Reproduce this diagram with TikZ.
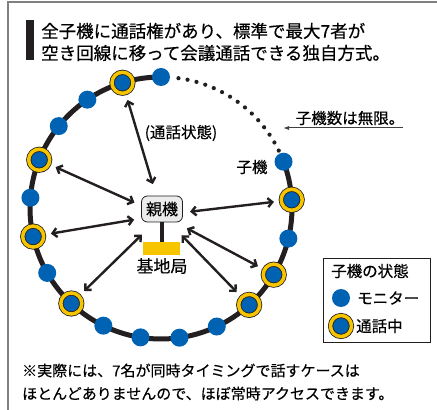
\documentclass[tikz,border=0pt]{standalone}
\usepackage{fontspec}
\setmainfont{Noto Sans CJK JP}[FakeBold=0.4]
\usetikzlibrary{arrows.meta}
\definecolor{kblue}{RGB}{0,98,178}
\definecolor{kyellow}{RGB}{247,196,0}
\definecolor{kink}{RGB}{35,31,32}

\begin{document}
\begin{tikzpicture}[x=1pt, y=1pt,
  monitor/.style ={circle, fill=kblue, inner sep=0pt, minimum size=18pt},
  talking/.style ={circle, fill=kblue, draw=kink, line width=0.8pt, double=kyellow,
    double distance=3.5pt, inner sep=0pt, minimum size=21pt},
  link/.style ={kink, line width=2.4pt, <->, >={Straight Barb[length=4.5pt,width=9pt]},
    shorten >=7pt},
  ring/.style ={kink, line width=5pt},
  txt/.style ={inner sep=0pt, font=\fontsize{15.5}{19}\selectfont}]
 \useasboundingbox (0,0) rectangle (437,410);
 \draw[gray, line width=1.2pt] (437,408) -- (8,408) -- (8,0);
 % title
 \fill[kink] (26,350) rectangle (34,390);
 \node[anchor=west, align=left, inner sep=0pt, font=\fontsize{17.5}{22}\selectfont] (title) at (41,368)
   {全子機に通話権があり、標準で最大7者が\\空き回線に移って会議通話できる独自方式。};
 % ring of handsets
 \begin{scope}[shift={(161,202)}]
 \draw[ring] (90:131) arc[start angle=90, end angle=380.7, radius=131];
 \draw[kink, line width=4.2pt, line cap=round, dash pattern=on 0pt off 9.2pt]
   (26:131) arc[start angle=26, end angle=85, radius=131];
 \node[monitor] (A) at (90:131) {};
 \node[talking] (B) at (107.1:131) {};
 \node[monitor] (C) at (124.2:131) {};
 \node[monitor] (D) at (141.3:131) {};
 \node[talking] (E) at (158.4:131) {};
 \node[monitor] (F) at (175.5:131) {};
 \node[talking] (G) at (192.6:131) {};
 \node[monitor] (H) at (209.7:131) {};
 \node[talking] (I) at (226.8:131) {};
 \node[monitor] (J) at (243.9:131) {};
 \node[monitor] (K) at (261:131) {};
 \node[monitor] (L) at (278.1:131) {};
 \node[monitor] (M) at (295.2:131) {};
 \node[talking] (N) at (312.3:131) {};
 \node[talking] (O) at (329.4:131) {};
 \node[monitor] (P) at (346.5:131) {};
 \node[talking] (Q) at (3.6:131) {};
 \node[monitor] (R) at (20.7:131) {};
 \end{scope}
 % base station
 \node[circle, minimum size=56pt, inner sep=0pt] (Z) at (162,195) {};
 \draw[kink, line width=3.5pt] (162,189) -- (162,168);
 \node[rectangle, fill=kyellow, minimum width=37pt, minimum height=13pt, inner sep=0pt] (Y) at (161.5,161.5) {};
 \node[rectangle, rounded corners=6pt, draw=kink, line width=0.8pt, fill=gray!15,
   minimum width=41pt, minimum height=26pt, inner sep=0pt, font=\fontsize{16}{19}\selectfont] (X) at (162,201) {親機};
 \node[txt, font=\fontsize{17}{20}\selectfont] (base) at (162,144) {基地局};
 \draw[link, shorten <=4pt] (Z) to (B);
 \draw[link, shorten <=2pt] (Z) to (E);
 \draw[link] (Z) to (G);
 \draw[link] (Z) to (I);
 \draw[link] (Z) to (N);
 \draw[link] (Z) to (O);
 \draw[link] (Z) to (Q);
 \node[txt] (state) at (181,277) {(通話状態)};
 \node[txt] (ko) at (252,243) {子機};
 % unlimited
 \node[txt] (mugen) at (350,292) {子機数は無限。};
 \coordinate (T1) at (403,282);
 \coordinate (T2) at (283,282);
 \draw[black!75, line width=1pt, -{Latex[length=6pt,width=4pt]}] (T1) -- (T2);
 % legend
 \draw[kink, line width=0.8pt] (323,68) rectangle (430,152);
 \node[txt, anchor=west] (lgtitle) at (331,139) {子機の状態};
 \node[monitor] (lg1) at (341,112) {};
 \node[txt, anchor=west] (lgt1) at (357,112) {モニター};
 \node[talking] (lg2) at (341,84) {};
 \node[txt, anchor=west] (lgt2) at (356,84) {通話中};
 % note
 \node[anchor=west, align=left, inner sep=0pt, font=\fontsize{15}{23}\selectfont] (note) at (22,28)
   {※実際には、7名が同時タイミングで話すケースは\\ほとんどありませんので、ほぼ常時アクセスできます。};
\end{tikzpicture}
\end{document}
